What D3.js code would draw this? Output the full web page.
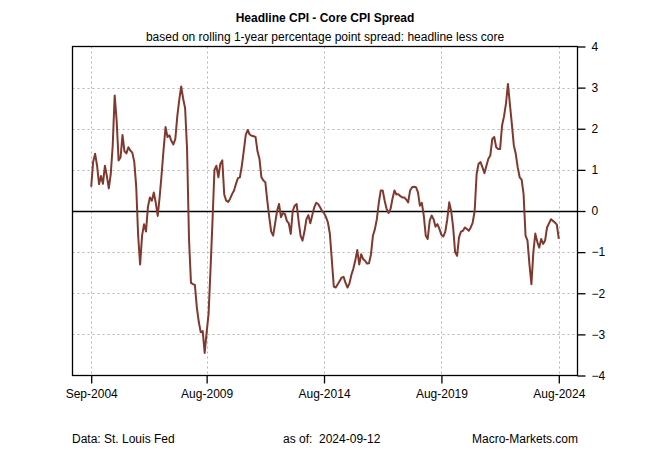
<!DOCTYPE html>
<html>
<head>
<meta charset="utf-8">
<script src="https://cdn.jsdelivr.net/npm/d3@7"></script>
<style>
  body { margin: 0; background: #fff; }
  svg { display: block; font-family: "Liberation Sans", Arial, sans-serif; }
</style>
</head>
<body>
<svg id="chart" width="650" height="450"></svg>
<script>
// Headline CPI less core CPI, rolling 1-year spread (percentage points), monthly
const startMonth = '2004-09';
const spread = [
  0.59, 1.2, 1.39, 1.1, 0.65, 0.85, 0.66, 1.1, 0.85, 0.55,
  0.9, 1.6, 2.81, 2.2, 1.23, 1.3, 1.85, 1.45, 1.4, 1.55,
  1.47, 1.42, 1.2, 0.6, -0.6, -1.3, -0.6, -0.32, -0.5, 0.1,
  0.33, 0.25, 0.45, 0.2, -0.12, 0.35, 0.9, 1.5, 2.04, 1.8,
  1.84, 1.7, 1.62, 1.75, 2.3, 2.7, 3.03, 2.73, 2.5, 1.5,
  -0.7, -1.75, -1.78, -1.8, -2.35, -2.7, -2.95, -2.92, -3.45, -2.95,
  -2.5, -1.4, -0.24, 1.0, 1.1, 0.82, 1.15, 1.23, 0.4, 0.25,
  0.22, 0.3, 0.41, 0.5, 0.66, 0.8, 0.82, 1.1, 1.47, 1.85,
  1.97, 1.86, 1.83, 1.82, 1.8, 1.45, 1.27, 0.82, 0.74, 0.7,
  0.25, -0.15, -0.5, -0.6, -0.3, 0.0, 0.17, -0.15, -0.05, -0.07,
  -0.24, -0.3, -0.56, 0.0, 0.13, 0.17, -0.24, -0.6, -0.72, -0.5,
  -0.2, -0.1, -0.3, -0.1, 0.09, 0.2, 0.17, 0.09, 0.0, -0.05,
  -0.15, -0.28, -0.56, -1.2, -1.84, -1.86, -1.78, -1.7, -1.62, -1.6,
  -1.75, -1.86, -1.76, -1.55, -1.4, -1.2, -0.95, -1.3, -1.05, -1.17,
  -1.21, -1.28, -1.27, -1.05, -0.6, -0.44, -0.2, 0.2, 0.5, 0.5,
  0.25, 0.05, -0.05, 0.05, 0.3, 0.5, 0.4, 0.41, 0.36, 0.33,
  0.33, 0.28, 0.21, 0.5, 0.58, 0.59, 0.58, 0.46, 0.13, 0.2,
  -0.12, -0.6, -0.68, -0.24, -0.11, -0.2, -0.38, -0.32, -0.44, -0.58,
  -0.62, -0.5, -0.2, 0.21, 0.0, -0.4, -1.0, -1.09, -0.64, -0.5,
  -0.48, -0.4, -0.44, -0.48, -0.4, -0.28, 0.0, 0.9, 1.15, 1.19,
  1.06, 0.92, 1.1, 1.27, 1.35, 1.75, 1.8, 1.55, 1.51, 1.51,
  2.08, 2.3, 2.61, 3.09, 2.6, 2.12, 1.6, 1.39, 1.06, 0.82,
  0.76, 0.41, -0.6, -0.72, -1.3, -1.78, -1.0, -0.55, -0.75, -0.89,
  -0.68, -0.8, -0.72, -0.4, -0.3, -0.2, -0.24, -0.28, -0.33, -0.68
];
const xTickMonths = [0, 59, 119, 179, 239];
const xTickLabels = ['Sep-2004', 'Aug-2009', 'Aug-2014', 'Aug-2019', 'Aug-2024'];
const yTicks = [-4, -3, -2, -1, 0, 1, 2, 3, 4];

const svg = d3.select('#chart');
const plot = { left: 72.5, right: 577.5, top: 46.5, bottom: 375.5 };

// R-style 4% padding on the time axis
const n = spread.length - 1;
const x = d3.scaleLinear()
  .domain([-0.04 * n, n * 1.04])
  .range([plot.left, plot.right]);
const y = d3.scaleLinear()
  .domain([-4, 4])
  .range([plot.bottom, plot.top]);

const monthDate = d3.timeParse('%Y-%m')(startMonth);
const data = spread.map((v, i) => ({ date: d3.timeMonth.offset(monthDate, i), i: i, v: v }));

// grid
const grid = svg.append('g').attr('stroke', '#b4b4b4').attr('stroke-dasharray', '2,3');
grid.selectAll('line.v')
  .data(xTickMonths)
  .enter().append('line')
  .attr('x1', d => Math.round(x(d)) + 0.5).attr('x2', d => Math.round(x(d)) + 0.5)
  .attr('y1', plot.top).attr('y2', plot.bottom);
grid.selectAll('line.h')
  .data(yTicks.filter(d => d !== 0 && Math.abs(d) < 4))
  .enter().append('line')
  .attr('x1', plot.left).attr('x2', plot.right)
  .attr('y1', d => Math.round(y(d)) + 0.5).attr('y2', d => Math.round(y(d)) + 0.5);

// zero line
svg.append('line')
  .attr('x1', plot.left).attr('x2', plot.right)
  .attr('y1', Math.round(y(0)) + 0.5).attr('y2', Math.round(y(0)) + 0.5)
  .attr('stroke', '#000').attr('stroke-width', 1.3);

// series
const line = d3.line()
  .x(d => x(d.i))
  .y(d => y(d.v));
svg.append('path')
  .datum(data)
  .attr('fill', 'none')
  .attr('stroke', '#80392f')
  .attr('stroke-width', 2)
  .attr('stroke-linejoin', 'round')
  .attr('d', line);

// box
svg.append('rect')
  .attr('x', plot.left).attr('y', plot.top)
  .attr('width', plot.right - plot.left).attr('height', plot.bottom - plot.top)
  .attr('fill', 'none').attr('stroke', '#000').attr('stroke-width', 1.3);

// bottom axis
const xAxis = d3.axisBottom(x)
  .tickValues(xTickMonths)
  .tickFormat((d, k) => xTickLabels[k])
  .tickSize(8)
  .tickPadding(6)
  .tickSizeOuter(0);
const gx = svg.append('g')
  .attr('transform', `translate(0,${plot.bottom})`)
  .call(xAxis);
gx.select('.domain').remove();
gx.selectAll('text').attr('font-size', 12).attr('font-family', '"Liberation Sans", Arial, sans-serif').attr('fill', '#000');
gx.selectAll('line').attr('stroke-width', 1.3);

// right axis
const yAxis = d3.axisRight(y)
  .tickValues(yTicks)
  .tickSize(8)
  .tickPadding(6)
  .tickSizeOuter(0);
const gy = svg.append('g')
  .attr('transform', `translate(${plot.right},0)`)
  .call(yAxis);
gy.select('.domain').remove();
gy.selectAll('text').attr('font-size', 12).attr('font-family', '"Liberation Sans", Arial, sans-serif').attr('fill', '#000');
gy.selectAll('line').attr('stroke-width', 1.3);

// titles
svg.append('text')
  .attr('x', 325).attr('y', 22)
  .attr('text-anchor', 'middle')
  .attr('font-size', 12).attr('font-weight', 'bold')
  .text('Headline CPI - Core CPI Spread');
svg.append('text')
  .attr('x', 325).attr('y', 41)
  .attr('text-anchor', 'middle')
  .attr('font-size', 12)
  .text('based on rolling 1-year percentage point spread: headline less core');

// footer
const footY = 443;
svg.append('text').attr('x', 72).attr('y', footY).attr('font-size', 12)
  .text('Data: St. Louis Fed');
svg.append('text').attr('x', 283).attr('y', footY).attr('font-size', 12)
  .attr('xml:space', 'preserve')
  .text('as of:  2024-09-12');
svg.append('text').attr('x', 578).attr('y', footY).attr('font-size', 12)
  .attr('text-anchor', 'end')
  .text('Macro-Markets.com');
</script>
</body>
</html>
